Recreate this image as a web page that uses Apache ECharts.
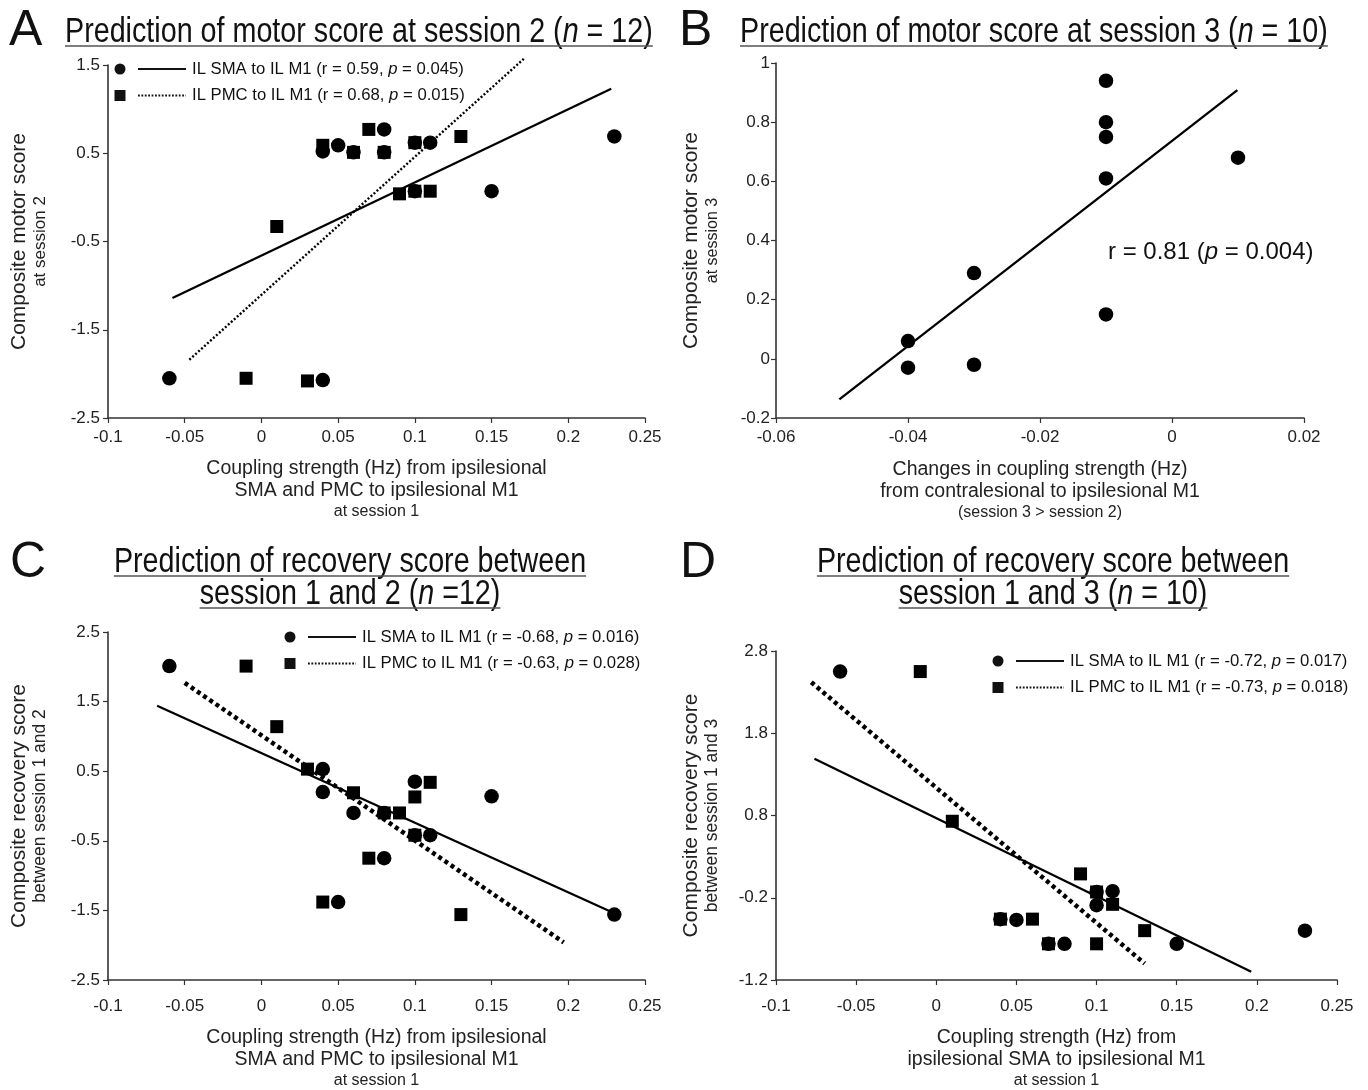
<!DOCTYPE html>
<html><head><meta charset="utf-8">
<script src="https://cdn.jsdelivr.net/npm/echarts@6/dist/echarts.min.js"></script>
<style>html,body{margin:0;padding:0;background:#fff}#c{width:1368px;height:1090px}</style>
</head><body><div id="c"></div>
<script>
// ---------- DATA ----------
// Panel A: motor score at session 2 vs coupling strength at session 1
const aSmaX = [-0.06, 0.04, 0.04, 0.05, 0.06, 0.08, 0.08, 0.10, 0.10, 0.11, 0.15, 0.23];
const aSmaY = [-2.05, -2.07, 0.52, 0.59, 0.51, 0.77, 0.51, 0.62, 0.07, 0.62, 0.07, 0.69];
const aPmcX = [-0.01, 0.01, 0.03, 0.04, 0.06, 0.07, 0.08, 0.09, 0.10, 0.10, 0.11, 0.13];
const aPmcY = [-2.05, -0.33, -2.08, 0.59, 0.51, 0.77, 0.51, 0.04, 0.62, 0.07, 0.07, 0.69];
const aSmaFitX = [-0.058, 0.228], aSmaFitY = [-1.14, 1.23];
const aPmcFitX = [-0.047, 0.171], aPmcFitY = [-1.84, 1.57];
// Panel B: motor score at session 3 vs change in coupling
const bX = [-0.04, -0.04, -0.03, -0.03, -0.01, -0.01, -0.01, -0.01, -0.01, 0.01];
const bY = [0.06, -0.03, 0.29, -0.02, 0.94, 0.80, 0.75, 0.61, 0.15, 0.68];
const bFitX = [-0.0504, 0.0099], bFitY = [-0.137, 0.908];
// Panel C: recovery score session 1-2
const cSmaX = [-0.06, 0.04, 0.04, 0.05, 0.06, 0.08, 0.08, 0.10, 0.10, 0.11, 0.15, 0.23];
const cSmaY = [2.01, 0.53, 0.20, -1.38, -0.10, -0.10, -0.75, 0.35, -0.42, -0.42, 0.14, -1.56];
const cPmcX = [-0.01, 0.01, 0.03, 0.04, 0.06, 0.07, 0.08, 0.09, 0.10, 0.10, 0.11, 0.13];
const cPmcY = [2.01, 1.14, 0.53, -1.38, 0.19, -0.75, -0.10, -0.10, 0.13, -0.42, 0.34, -1.56];
const cSmaFitX = [-0.068, 0.230], cSmaFitY = [1.44, -1.54];
const cPmcFitX = [-0.050, 0.197], cPmcFitY = [1.77, -1.96];
// Panel D: recovery score session 1-3
const dSmaX = [-0.06, 0.04, 0.05, 0.07, 0.08, 0.10, 0.10, 0.11, 0.15, 0.23];
const dSmaY = [2.55, -0.46, -0.47, -0.76, -0.76, -0.29, -0.13, -0.12, -0.76, -0.60];
const dPmcX = [-0.01, 0.01, 0.04, 0.06, 0.07, 0.09, 0.10, 0.10, 0.11, 0.13];
const dPmcY = [2.55, 0.73, -0.46, -0.46, -0.76, 0.09, -0.13, -0.76, -0.28, -0.60];
const dSmaFitX = [-0.076, 0.1965], dSmaFitY = [1.49, -1.10];
const dPmcFitX = [-0.078, 0.130], dPmcFitY = [2.42, -1.00];
// Axis ranges [min, max, interval]
const xRangeA = [-0.1, 0.25, 0.05], yRangeA = [-2.5, 1.5, 1];
const xRangeB = [-0.06, 0.02, 0.02], yRangeB = [-0.2, 1, 0.2];
const xRangeC = [-0.1, 0.25, 0.05], yRangeC = [-2.5, 2.5, 1];
const xRangeD = [-0.1, 0.25, 0.05], yRangeD = [-1.2, 2.8, 1];

// ---------- FONTS ----------
const mctx = document.createElement('canvas').getContext('2d');
function hasFont(name){
  const s='Prediction of motor score 0123456789';
  mctx.font='40px monospace'; const w1=mctx.measureText(s).width;
  mctx.font='40px "'+name+'", monospace'; const w2=mctx.measureText(s).width;
  return Math.abs(w1-w2)>0.5;
}
const FR = '"Liberation Sans", Arial, sans-serif';
const narrow = hasFont('Liberation Sans Narrow');
const TF = narrow ? '"Liberation Sans Narrow", "Liberation Sans", sans-serif' : FR;
const TSX = narrow ? 1 : 0.82;
const TSIZE = 35;
const INK = '#111';

function segW(t, font){ mctx.font = font; return mctx.measureText(t).width; }

function titleEls(segs, x, y, align){
  let w = 0;
  segs.forEach(([t,it]) => { w += segW(t, (it?'italic ':'') + TSIZE + 'px ' + TF); });
  w *= TSX;
  const left = align === 'center' ? x - w/2 : x;
  const text = segs.map(([t,it]) => '{' + (it?'i':'t') + '|' + t + '}').join('');
  return [
    {type:'text', x:left, y:y, scaleX:TSX, style:{text:text, align:'left', verticalAlign:'middle',
      rich:{t:{fontFamily:TF, fontSize:TSIZE, fill:INK}, i:{fontFamily:TF, fontSize:TSIZE, fontStyle:'italic', fill:INK}}}},
    {type:'line', shape:{x1:left, y1:y+14, x2:left+w, y2:y+14}, style:{stroke:'#555', lineWidth:1.6}}
  ];
}
function letterEl(t, x, y){
  return {type:'text', x:x, y:y, style:{text:t, fontFamily:FR, fontSize:50, fill:INK, align:'left', verticalAlign:'middle'}};
}
function legendEls(x, y, rows){
  const els = [];
  rows.forEach((r, k) => {
    const cy = y + k*26.5;
    if (r.shape === 'circle') els.push({type:'circle', shape:{cx:x, cy:cy, r:5.5}, style:{fill:INK}});
    else els.push({type:'rect', shape:{x:x-5.5, y:cy-5.5, width:11, height:11}, style:{fill:INK}});
    els.push({type:'line', shape:{x1:x+18, y1:cy, x2:x+66, y2:cy},
      style:{stroke:INK, lineWidth: r.dotted ? 2 : 2.2, lineDash: r.dotted ? [1.8,1.6] : null}});
    els.push({type:'text', x:x+72, y:cy, style:{text:r.text, align:'left', verticalAlign:'middle',
      rich:{t:{fontFamily:FR, fontSize:16.7, fill:INK}, i:{fontFamily:FR, fontSize:16.7, fontStyle:'italic', fill:INK}}}});
  });
  return els;
}

// ---------- AXES ----------
const fmt = v => String(+(+v).toFixed(2));
const axisCommon = {
  axisLine:{show:true, onZero:false, lineStyle:{color:'#333', width:1.6}},
  axisTick:{show:true, inside:false, length:5, lineStyle:{color:'#333', width:1.2}},
  splitLine:{show:false}
};
function xAx(idx, r, lines, gap, margin){
  return Object.assign({}, axisCommon, {
    type:'value', gridIndex:idx, min:r[0], max:r[1], interval:r[2],
    axisLabel:{color:'#222', fontFamily:FR, fontSize:17, margin:margin, formatter:fmt, showMinLabel:true, showMaxLabel:true},
    name: lines, nameLocation:'middle', nameGap:gap,
    nameTextStyle:{rich:{
      a:{fontFamily:FR, fontSize:19.5, lineHeight:22, color:'#222'},
      b:{fontFamily:FR, fontSize:16, lineHeight:20, color:'#222'}}}
  });
}
function yAx(idx, r, lines, gap, margin, subSize){
  return Object.assign({}, axisCommon, {
    type:'value', gridIndex:idx, min:r[0], max:r[1], interval:r[2],
    axisLabel:{color:'#222', fontFamily:FR, fontSize:17, margin:margin, formatter:fmt, showMinLabel:true, showMaxLabel:true},
    name: lines, nameLocation:'middle', nameGap:gap, nameRotate:90,
    nameTextStyle:{rich:{
      a:{fontFamily:FR, fontSize:21, lineHeight:24, color:'#222'},
      b:{fontFamily:FR, fontSize:subSize, lineHeight:19, color:'#222'}}}
  });
}

// ---------- SERIES ----------
const zip = (xs, ys) => xs.map((x,i) => [x, ys[i]]);
function circles(idx, xs, ys){ return {type:'scatter', xAxisIndex:idx, yAxisIndex:idx, symbol:'circle', symbolSize:14.5, itemStyle:{color:'#000', opacity:1}, data:zip(xs,ys), z:3}; }
function squares(idx, xs, ys){ return {type:'scatter', xAxisIndex:idx, yAxisIndex:idx, symbol:'rect', symbolSize:13, itemStyle:{color:'#000', opacity:1}, data:zip(xs,ys), z:3}; }
function fit(idx, xs, ys, style){
  return {type:'line', xAxisIndex:idx, yAxisIndex:idx, data:zip(xs,ys), showSymbol:false, symbol:'none', clip:false,
    lineStyle:Object.assign({color:'#000', opacity:1}, style), z:2, silent:true};
}
const solid = {width:2.3, type:'solid'};
const fineDot = {width:2.4, type:[2,2]};
const heavyDot = {width:4.5, type:[4,3.5]};

const option = {
  animation:false,
  backgroundColor:'#fff',
  grid:[
    {left:108, top:65, width:537, height:353},
    {left:776, top:63, width:528, height:355},
    {left:108, top:632, width:537, height:359},
    {left:776, top:651, width:561, height:340}
  ],
  xAxis:[
    xAx(0, xRangeA, '{a|Coupling strength (Hz) from ipsilesional}\n{a|SMA and PMC to ipsilesional M1}\n{b|at session 1}', 40, 11),
    xAx(1, xRangeB, '{a|Changes in coupling strength (Hz)}\n{a|from contralesional to ipsilesional M1}\n{b|(session 3 > session 2)}', 41, 11),
    xAx(2, xRangeC, '{a|Coupling strength (Hz) from ipsilesional}\n{a|SMA and PMC to ipsilesional M1}\n{b|at session 1}', 47, 18),
    xAx(3, xRangeD, '{a|Coupling strength (Hz) from}\n{a|ipsilesional SMA to ipsilesional M1}\n{b|at session 1}', 47, 18)
  ],
  yAxis:[
    yAx(0, yRangeA, '{a|Composite motor score}\n{b|at session 2}', 58, 8, 17),
    yAx(1, yRangeB, '{a|Composite motor score}\n{b|at session 3}', 54, 6, 16),
    yAx(2, yRangeC, '{a|Composite recovery score}\n{b|between session 1 and 2}', 58, 8, 17.5),
    yAx(3, yRangeD, '{a|Composite recovery score}\n{b|between session 1 and 3}', 54, 8, 17.5)
  ],
  series:[
    fit(0, aSmaFitX, aSmaFitY, solid), fit(0, aPmcFitX, aPmcFitY, fineDot),
    circles(0, aSmaX, aSmaY), squares(0, aPmcX, aPmcY),
    fit(1, bFitX, bFitY, solid), circles(1, bX, bY),
    fit(2, cSmaFitX, cSmaFitY, solid), fit(2, cPmcFitX, cPmcFitY, heavyDot),
    circles(2, cSmaX, cSmaY), squares(2, cPmcX, cPmcY),
    fit(3, dSmaFitX, dSmaFitY, solid), fit(3, dPmcFitX, dPmcFitY, heavyDot),
    circles(3, dSmaX, dSmaY), squares(3, dPmcX, dPmcY)
  ],
  graphic:[].concat(
    letterEl('A', 9, 31), letterEl('B', 679, 31), letterEl('C', 10, 563), letterEl('D', 680, 563),
    titleEls([['Prediction of motor score at session 2 (',0],['n',1],[' = 12)',0]], 65, 32, 'left'),
    titleEls([['Prediction of motor score at session 3 (',0],['n',1],[' = 10)',0]], 740, 32, 'left'),
    titleEls([['Prediction of recovery score between',0]], 350, 562, 'center'),
    titleEls([['session 1 and 2 (',0],['n',1],[' =12)',0]], 350, 594, 'center'),
    titleEls([['Prediction of recovery score between',0]], 1053, 562, 'center'),
    titleEls([['session 1 and 3 (',0],['n',1],[' = 10)',0]], 1053, 594, 'center'),
    legendEls(120, 69, [
      {shape:'circle', dotted:false, text:'{t|IL SMA to IL M1 (r = 0.59, }{i|p}{t| = 0.045)}'},
      {shape:'rect', dotted:true, text:'{t|IL PMC to IL M1 (r = 0.68, }{i|p}{t| = 0.015)}'}]),
    legendEls(290, 637, [
      {shape:'circle', dotted:false, text:'{t|IL SMA to IL M1 (r = -0.68, }{i|p}{t| = 0.016)}'},
      {shape:'rect', dotted:true, text:'{t|IL PMC to IL M1 (r = -0.63, }{i|p}{t| = 0.028)}'}]),
    legendEls(998, 661, [
      {shape:'circle', dotted:false, text:'{t|IL SMA to IL M1 (r = -0.72, }{i|p}{t| = 0.017)}'},
      {shape:'rect', dotted:true, text:'{t|IL PMC to IL M1 (r = -0.73, }{i|p}{t| = 0.018)}'}]),
    [{type:'text', x:1108, y:252, style:{text:'{t|r = 0.81 (}{i|p}{t| = 0.004)}', align:'left', verticalAlign:'middle',
      rich:{t:{fontFamily:FR, fontSize:24, fill:INK}, i:{fontFamily:FR, fontSize:24, fontStyle:'italic', fill:INK}}}}]
  )
};
const chart = echarts.init(document.getElementById('c'), null, {renderer:'canvas'});
chart.setOption(option);
</script></body></html>
